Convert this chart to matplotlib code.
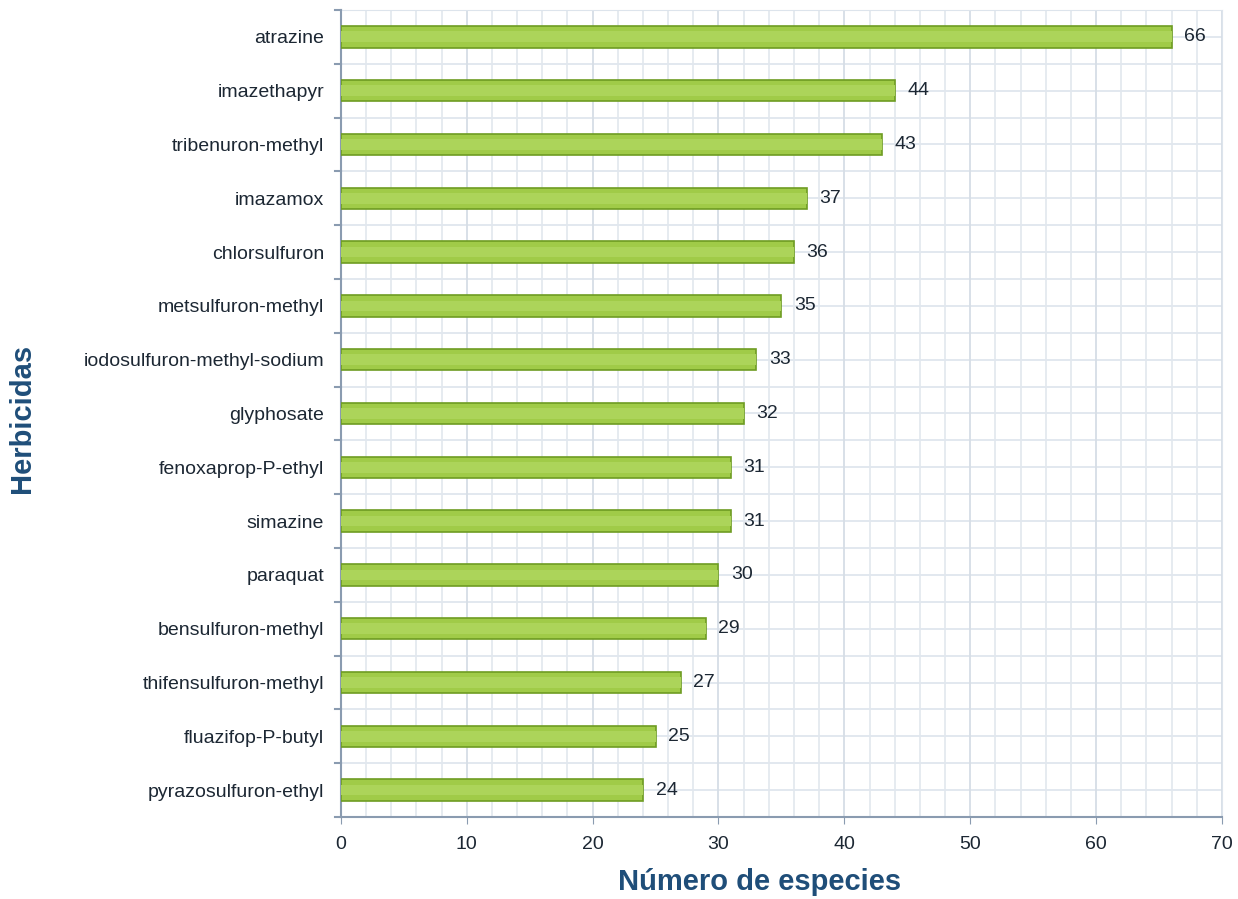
import matplotlib.pyplot as plt
from matplotlib.ticker import MultipleLocator

plt.rcParams['font.family'] = ['Liberation Sans', 'DejaVu Sans']

herbicidas = ['atrazine', 'imazethapyr', 'tribenuron-methyl', 'imazamox', 'chlorsulfuron',
              'metsulfuron-methyl', 'iodosulfuron-methyl-sodium', 'glyphosate',
              'fenoxaprop-P-ethyl', 'simazine', 'paraquat', 'bensulfuron-methyl',
              'thifensulfuron-methyl', 'fluazifop-P-butyl', 'pyrazosulfuron-ethyl']
especies = [66, 44, 43, 37, 36, 35, 33, 32, 31, 31, 30, 29, 27, 25, 24]

fig = plt.figure(figsize=(12.38, 8.99), dpi=100)
ax = fig.add_axes([0.2754, 0.0912, 0.7116, 0.8977])

pos = list(range(len(herbicidas)))
ax.barh(pos, especies, height=0.4, color='#a0cb48', edgecolor='#6e9c22', linewidth=1.2, zorder=3)
# brillo central
ax.barh(pos, especies, height=0.2, color='#acd45a', linewidth=0, zorder=3)

for p, v in zip(pos, especies):
    ax.text(v + 1.0, p, str(v), va='center', ha='left', fontsize=14, color='#1c2733', zorder=4)

ax.set_xlim(0, 70)
ax.set_ylim(len(herbicidas) - 0.5, -0.5)

ax.set_yticks(pos)
ax.set_yticklabels(herbicidas, fontsize=14, color='#1c2733')
ax.tick_params(axis='y', length=0, pad=12)
ax.xaxis.set_major_locator(MultipleLocator(10))
ax.xaxis.set_minor_locator(MultipleLocator(2))
ax.tick_params(axis='x', which='major', length=5, color='#8a9bb0', labelsize=14, labelcolor='#1c2733', pad=9)
ax.tick_params(axis='x', which='minor', length=0)

# rejilla horizontal cada media categoría
hlines = [i * 0.5 - 0.5 for i in range(2 * len(herbicidas) + 1)]
for y in hlines:
    ax.axhline(y, color='#dde4ec', linewidth=1.2, zorder=1)
for y in hlines[::2]:
    ax.plot([-0.45, 0], [y, y], color='#8a9bb0', linewidth=1.5, clip_on=False, zorder=5)

ax.grid(axis='x', which='minor', color='#e1e7ee', linewidth=1.2, zorder=1)
ax.grid(axis='x', which='major', color='#d6dde6', linewidth=1.3, zorder=1)

for s in ['top', 'right']:
    ax.spines[s].set_color('#dde4ec')
ax.spines['left'].set_color('#8a9bb0')
ax.spines['bottom'].set_color('#8a9bb0')
ax.spines['left'].set_linewidth(1.5)
ax.spines['bottom'].set_linewidth(1.5)

fig.text(760 / 1238, 1 - 882 / 899, 'Número de especies', fontsize=21, fontweight='bold',
         color='#1f4e79', ha='center', va='center')
fig.text(22 / 1238, 1 - 418 / 899, 'Herbicidas', rotation=90, fontsize=21, fontweight='bold',
         color='#1f4e79', ha='center', va='center')

fig.savefig('out.png', dpi=100)
